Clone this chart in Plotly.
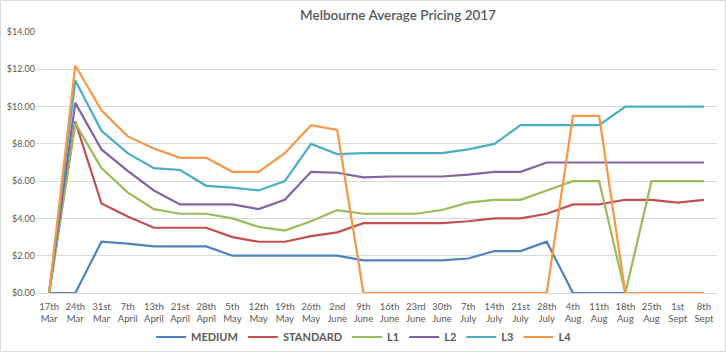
import plotly.graph_objects as go

dates = ["17th<br>Mar", "24th<br>Mar", "31st<br>Mar", "7th<br>April", "13th<br>April", "21st<br>April",
         "28th<br>April", "5th<br>May", "12th<br>May", "19th<br>May", "26th<br>May", "2nd<br>June",
         "9th<br>June", "16th<br>June", "23rd<br>June", "30th<br>June", "7th<br>July", "14th<br>July",
         "21st<br>July", "28th<br>July", "4th<br>Aug", "11th<br>Aug", "18th<br>Aug", "25th<br>Aug",
         "1st<br>Sept", "8th<br>Sept"]

medium = [0, 0, 2.75, 2.65, 2.5, 2.5, 2.5, 2.0, 2.0, 2.0, 2.0, 2.0, 1.75, 1.75, 1.75, 1.75, 1.85, 2.25,
          2.25, 2.75, 0, 0, 0, 0, 0, 0]
standard = [0, 9.2, 4.8, 4.1, 3.5, 3.5, 3.5, 3.0, 2.75, 2.75, 3.05, 3.25, 3.75, 3.75, 3.75, 3.75, 3.85,
            4.0, 4.0, 4.25, 4.75, 4.75, 5.0, 5.0, 4.85, 5.0]
l1 = [0, 9.1, 6.7, 5.4, 4.5, 4.25, 4.25, 4.0, 3.55, 3.35, 3.85, 4.45, 4.25, 4.25, 4.25, 4.45, 4.85, 5.0,
      5.0, 5.5, 6.0, 6.0, 0, 6.0, 6.0, 6.0]
l2 = [0, 10.2, 7.7, 6.55, 5.5, 4.75, 4.75, 4.75, 4.5, 5.0, 6.5, 6.45, 6.2, 6.25, 6.25, 6.25, 6.35, 6.5,
      6.5, 7.0, 7.0, 7.0, 7.0, 7.0, 7.0, 7.0]
l3 = [0, 11.4, 8.7, 7.5, 6.7, 6.6, 5.75, 5.65, 5.5, 6.0, 8.0, 7.45, 7.5, 7.5, 7.5, 7.5, 7.7, 8.0, 9.0,
      9.0, 9.0, 9.0, 10.0, 10.0, 10.0, 10.0]
l4 = [0, 12.2, 9.8, 8.4, 7.75, 7.25, 7.25, 6.5, 6.5, 7.5, 9.0, 8.75, 0, 0, 0, 0, 0, 0, 0, 0, 9.5, 9.5,
      0, 0, 0, 0]

series = [("MEDIUM", medium, "#4F81BD"), ("STANDARD", standard, "#C0504D"), ("L1", l1, "#9BBB59"),
          ("L2", l2, "#8064A2"), ("L3", l3, "#4BACC6"), ("L4", l4, "#F79646")]

fig = go.Figure()
for name, vals, color in series:
    fig.add_trace(go.Scatter(x=dates, y=vals, name=name, mode="lines",
                             line=dict(color=color, width=2.2)))

W, H = 726, 352
ml, mr, mt, mb = 36, 9, 32, 59
pw, ph = W - ml - mr, H - mt - mb

fig.update_layout(
    width=W, height=H,
    margin=dict(l=ml, r=mr, t=mt, b=mb),
    paper_bgcolor="white", plot_bgcolor="white",
    font=dict(family="Lato, Open Sans, sans-serif", color="#595959", size=10),
    title=dict(text="Melbourne Average Pricing 2017", x=398 / W, xref="container", xanchor="center",
               y=1 - 15 / H, yref="container", yanchor="middle",
               font=dict(size=13.5, color="#595959", family="Lato, sans-serif", weight=600)),
    showlegend=True,
    legend=dict(orientation="h", x=364 / W, xref="container", xanchor="center",
                y=1 - 337 / H, yref="container", yanchor="middle",
                font=dict(size=11, color="#595959", weight="bold"),
                itemwidth=30, tracegroupgap=0, bgcolor="rgba(0,0,0,0)"),
    xaxis=dict(type="category", range=[-0.5, len(dates) - 0.5], showgrid=False,
               tickfont=dict(size=9.5, color="#595959"), ticks="", showline=False,
               tickangle=0, ticklabelstandoff=6, automargin=False),
    yaxis=dict(range=[0, 14], dtick=2, tickprefix="$", tickformat=".2f",
               gridcolor="#D9D9D9", gridwidth=1, zeroline=True, zerolinecolor="#D9D9D9",
               zerolinewidth=1, showline=False, ticks="", automargin=False,
               tickfont=dict(size=9, color="#595959")),
    shapes=[dict(type="rect", xref="paper", yref="paper",
                 x0=(-ml + 0.5) / pw, x1=1 + (mr - 0.5) / pw,
                 y0=(-mb + 0.5) / ph, y1=1 + (mt - 0.5) / ph,
                 line=dict(color="#D9D9D9", width=1), layer="below")],
)

fig.write_html("out.html")
